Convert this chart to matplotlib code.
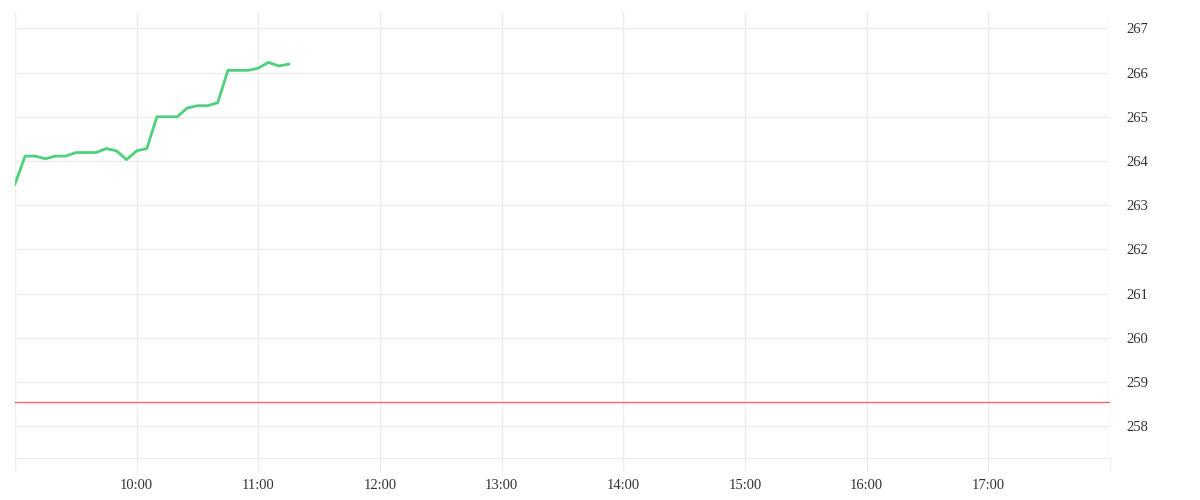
import matplotlib

matplotlib.use("Agg")
import matplotlib.pyplot as plt
import pandas as pd

# intraday prices, 5-minute steps from 09:00
times = ["09:00", "09:05", "09:10", "09:15", "09:20", "09:25", "09:30", "09:35",
         "09:40", "09:45", "09:50", "09:55", "10:00", "10:05", "10:10", "10:15",
         "10:20", "10:25", "10:30", "10:35", "10:40", "10:45", "10:50", "10:55",
         "11:00", "11:05", "11:10", "11:15"]
prices = [263.48, 264.11, 264.11, 264.05, 264.11, 264.11, 264.19, 264.19,
          264.19, 264.28, 264.23, 264.03, 264.23, 264.28, 265.00, 265.00,
          265.00, 265.20, 265.25, 265.25, 265.32, 266.05, 266.05, 266.05,
          266.10, 266.23, 266.15, 266.19]
prev_close = 258.55
y_ticks = [258, 259, 260, 261, 262, 263, 264, 265, 266, 267]
session = ("09:00", "18:00")

DAY = "2024-01-02 "
t = pd.to_datetime([DAY + s for s in times])
t0, t1 = pd.to_datetime([DAY + s for s in session])

GRID = "#ececec"
plt.rcParams.update({"font.family": ["Liberation Serif", "DejaVu Serif"]})

fig = plt.figure(figsize=(12, 5), dpi=100)
ax = fig.add_axes([15 / 1200, 42 / 500, 1095 / 1200, 446 / 500])

ax.plot(t, prices, color="#4fd17c", lw=2.0, solid_joinstyle="round", zorder=3)
ax.axhline(prev_close, color="#ff5a62", lw=0.9, zorder=2)

ax.set_xlim(t0, t1)
ax.set_ylim(257.28, 267.37)

hours = pd.date_range(t0, t1, freq="1h")
ax.set_xticks(hours)
ax.set_xticklabels(["" if h in (t0, t1) else h.strftime("%H:%M") for h in hours])
ax.set_yticks(y_ticks)
ax.yaxis.tick_right()
for lbl in ax.get_yticklabels():
    lbl.set_verticalalignment("center_baseline")

ax.grid(True, color=GRID, lw=1.0, zorder=0)
for s in ("top", "left", "right"):
    ax.spines[s].set_visible(False)
ax.spines["bottom"].set_color(GRID)
ax.tick_params(axis="x", length=9, color=GRID, width=1.0, labelsize=10.5,
               labelcolor="#333333", pad=6)
ax.tick_params(axis="y", length=0, labelsize=10.5, labelcolor="#333333", pad=12)

fig.savefig("out.png", dpi=100, facecolor="white")
